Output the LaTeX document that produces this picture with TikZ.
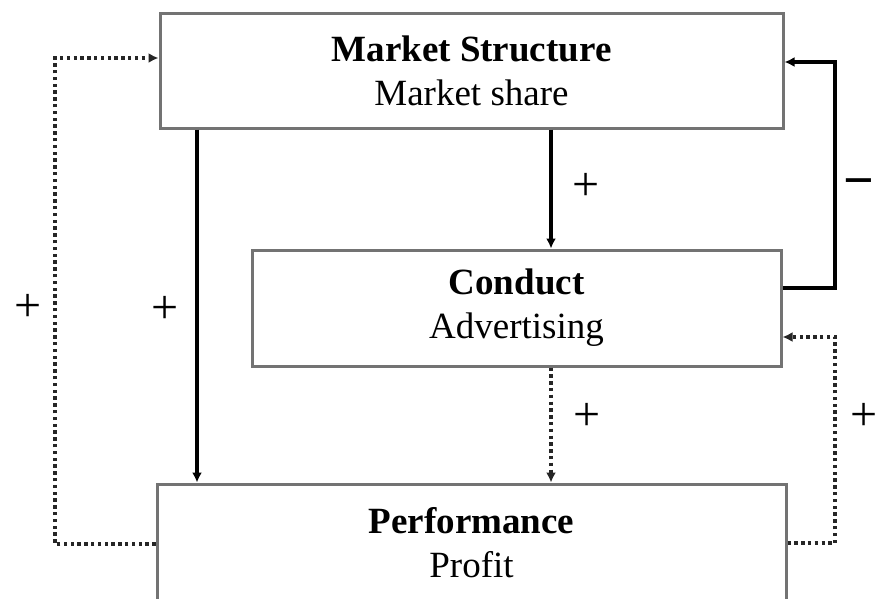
\documentclass[tikz,border=0pt]{standalone}
\usepackage{fontspec}
\setmainfont{Liberation Serif}
\usetikzlibrary{arrows.meta}
\begin{document}
\begin{tikzpicture}[x=1pt,y=-1pt,
  boxst/.style={draw=black!55,line width=3pt,rectangle,align=center,inner sep=0pt,
     font=\fontsize{37}{44}\selectfont},
  solidarr/.style={draw=black,line width=3.2pt,-{Latex[length=10pt,width=10pt]}},
  dotarr/.style={draw=black!85,line width=3.6pt,dash pattern=on 3.4pt off 3.4pt,-{Latex[length=10pt,width=10pt]}},
  sign/.style={font=\fontsize{48}{48}\selectfont,inner sep=0pt}]
\clip (0,0) rectangle (880,598);
\fill[white] (0,0) rectangle (880,598);
\node[boxst,minimum width=623pt,minimum height=115pt] (ms) at (471.5,70.5) {\textbf{Market Structure}\\Market share};
\node[boxst,minimum width=529pt,minimum height=116pt] (cd) at (516.5,308) {\textbf{Conduct}\\Advertising};
\node[boxst,minimum width=629pt,minimum height=118pt] (pf) at (471.5,543) {\textbf{Performance}\\Profit};
\coordinate (xa) at (197,0);
\coordinate (xb) at (551,0);
\coordinate (l1) at (55,544);
\coordinate (l2) at (55,58);
\coordinate (r1) at (835,288);
\coordinate (r2) at (835,62);
\coordinate (r3) at (835,543);
\coordinate (r4) at (835,337);
% left dotted feedback
\draw[dotarr] (pf.west |- l1) -- (l1) -- (l2) -- (ms.west |- l2);
% solid down from market structure to performance
\draw[solidarr] (ms.south -| xa) -- (pf.north -| xa);
% solid down market structure to conduct
\draw[solidarr] (ms.south -| xb) -- (cd.north -| xb);
% dotted conduct to performance
\draw[dotarr] (cd.south -| xb) -- (pf.north -| xb);
% right solid (negative)
\draw[solidarr,line width=4.2pt] (cd.east |- r1) -- (r1) -- (r2) -- (ms.east |- r2);
% right dotted
\draw[dotarr] (pf.east |- r3) -- (r3) -- (r4) -- (cd.east |- r4);
% signs
\node[sign] (s1) at (28,308) {+};
\node[sign] (s2) at (165,310) {+};
\node[sign] (s3) at (586,187) {+};
\node[sign] (s4) at (587,417) {+};
\node[sign] (s5) at (864,417) {+};
\node[sign,font=\fontsize{54}{54}\selectfont\bfseries] (s6) at (859,189) {−};
\end{tikzpicture}
\end{document}
